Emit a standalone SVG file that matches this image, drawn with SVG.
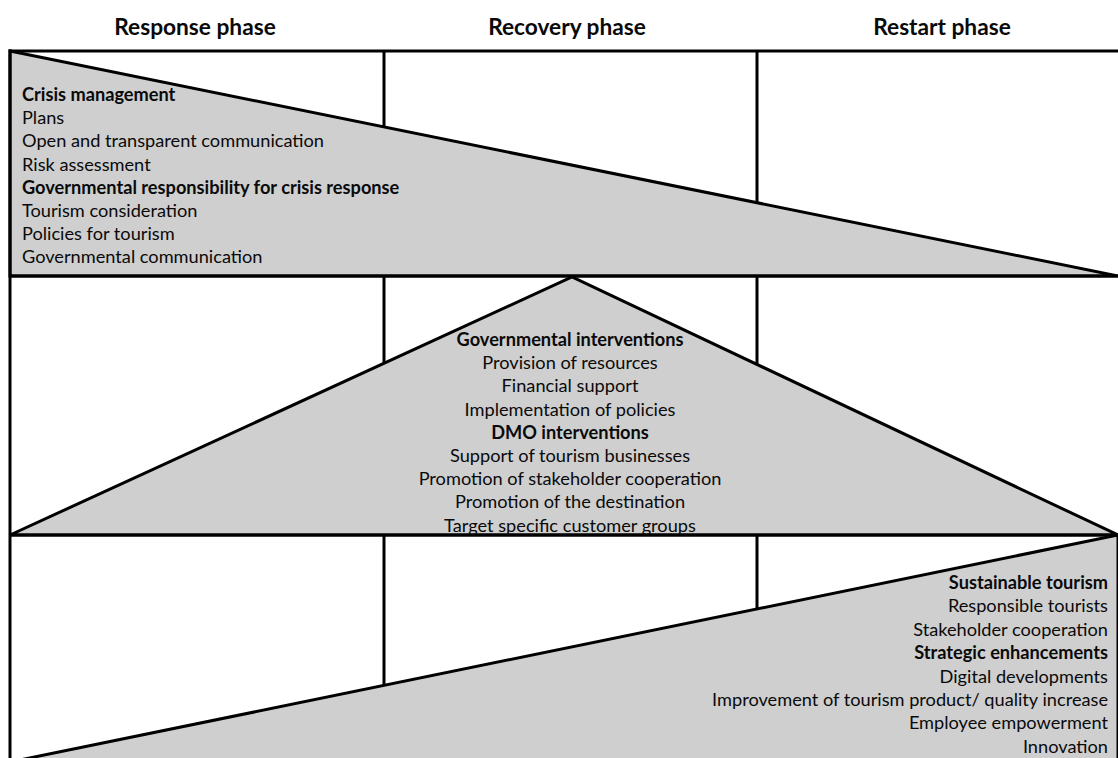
<svg xmlns="http://www.w3.org/2000/svg" width="1118" height="758" viewBox="0 0 1118 758">
<style>
.ln{stroke:#000;stroke-width:3;fill:none}
.tri{fill:#cfcfcf;stroke:#000;stroke-width:3;stroke-linejoin:miter}
text{font-family:Lato,"Open Sans","Liberation Sans",sans-serif;fill:#0a0a0a}
.h{font-size:22.7px;font-weight:bold;text-anchor:middle}
.t{font-size:18.2px}
.b{font-weight:bold}
.c{text-anchor:middle}
.r{text-anchor:end}
</style>
<rect width="1118" height="758" fill="#fff"/>
<g id="headers">
<text class="h" x="195" y="35">Response phase</text>
<text class="h" x="567" y="35">Recovery phase</text>
<text class="h" x="942" y="35">Restart phase</text>
</g>
<g id="grid">
<line class="ln" x1="384" y1="51" x2="384" y2="758"/>
<line class="ln" x1="757" y1="51" x2="757" y2="758"/>
</g>
<g id="response-node">
<polygon class="tri" points="10,51 1118,276 10,276"/>
</g>
<g id="recovery-node">
<polygon class="tri" points="10,535 572,277 1118,535"/>
</g>
<g id="restart-node">
<polygon class="tri" points="1118,535 10,762 1118,762"/>
</g>
<g id="connectors">
<line class="ln" x1="10" y1="51" x2="1118" y2="51"/>
<line class="ln" x1="10" y1="276" x2="1118" y2="276"/>
<line class="ln" x1="10" y1="535" x2="1118" y2="535"/>
<line class="ln" x1="10" y1="49.5" x2="10" y2="758"/>
</g>
<g id="response-text">
<text class="t b" x="22" y="101">Crisis management</text>
<text class="t" x="22" y="124">Plans</text>
<text class="t" x="22" y="147.3">Open and transparent communication</text>
<text class="t" x="22" y="170.5">Risk assessment</text>
<text class="t b" x="22" y="193.8">Governmental responsibility for crisis response</text>
<text class="t" x="22" y="217">Tourism consideration</text>
<text class="t" x="22" y="240">Policies for tourism</text>
<text class="t" x="22" y="263">Governmental communication</text>
</g>
<g id="recovery-text">
<text class="t b c" x="570" y="346">Governmental interventions</text>
<text class="t c" x="570" y="369.2">Provision of resources</text>
<text class="t c" x="570" y="392.4">Financial support</text>
<text class="t c" x="570" y="415.6">Implementation of policies</text>
<text class="t b c" x="570" y="438.8">DMO interventions</text>
<text class="t c" x="570" y="462">Support of tourism businesses</text>
<text class="t c" x="570" y="485.2">Promotion of stakeholder cooperation</text>
<text class="t c" x="570" y="508.4">Promotion of the destination</text>
<text class="t c" x="570" y="531.6">Target specific customer groups</text>
</g>
<g id="restart-text">
<text class="t b r" x="1108" y="589">Sustainable tourism</text>
<text class="t r" x="1108" y="612.4">Responsible tourists</text>
<text class="t r" x="1108" y="635.8">Stakeholder cooperation</text>
<text class="t b r" x="1108" y="659.2">Strategic enhancements</text>
<text class="t r" x="1108" y="682.6">Digital developments</text>
<text class="t r" x="1108" y="706">Improvement of tourism product/ quality increase</text>
<text class="t r" x="1108" y="729.4">Employee empowerment</text>
<text class="t r" x="1108" y="752.8">Innovation</text>
</g>
</svg>
